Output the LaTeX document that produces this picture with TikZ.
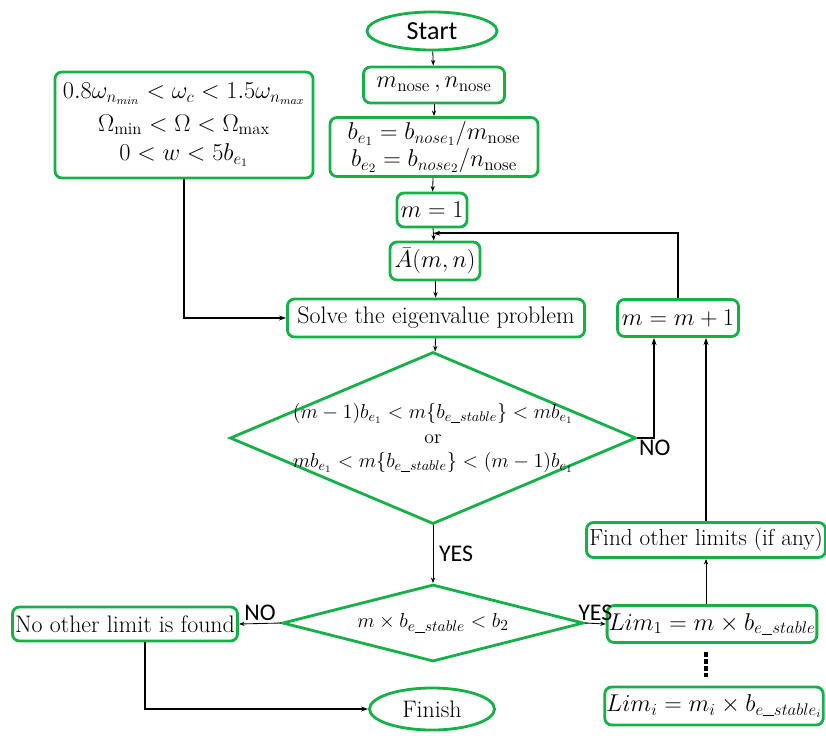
\documentclass[tikz,border=0pt]{standalone}
\usepackage{fontspec}
\newfontfamily\calib{Carlito}
\usepackage{tikz}
\usetikzlibrary{
  arrows.meta,shapes.geometric,positioning,calc
}
\definecolor{flowgreen}{RGB}{22,176,72}
\newcommand{\us}{\mbox{\rule[-0.6pt]{0.45em}{0.35pt}}}

\tikzset{
  box/.style={draw=flowgreen,line width=2pt,rounded corners=5pt,fill=white,inner sep=1pt,font=\fontsize{17}{20}\selectfont},
  term/.style={ellipse,draw=flowgreen,line width=2pt,fill=white,inner sep=1pt,font=\fontsize{17}{20}\selectfont},
  decision/.style={diamond,draw=flowgreen,line width=2pt,inner sep=0pt},
  bigmath/.style={font=\fontsize{17.5}{21}\selectfont},
  thinarrow/.style={line width=.6pt,-{Stealth[length=4pt,width=3pt]}},
  thickarrow/.style={line width=1.3pt,-{Stealth[length=5pt,width=3.5pt]}},
  answer/.style={font=\calib\fontsize{17}{20}\selectfont,inner sep=1pt}
}

\begin{document}
\begin{tikzpicture}[x=0.025cm,y=-0.025cm]
  \useasboundingbox (0,0) rectangle (826,735);

  \node[term,minimum width=3.25cm,minimum height=.95cm,font=\calib\fontsize{18.5}{22}\selectfont] (start) at (432,31) {Start};
  \node[box,bigmath,minimum width=3.525cm,minimum height=.9cm] (mn) at (434,85) {$m_{\mathrm{nose}}\,,n_{\mathrm{nose}}$};
  \node[box,bigmath,minimum width=5.2cm,minimum height=1.475cm,align=center] (be) at (434,147)
    {$b_{e_1}=b_{nose_1}/m_{\mathrm{nose}}$\\[-2pt] $b_{e_2}=b_{nose_2}/n_{\mathrm{nose}}$};
  \node[box,bigmath,minimum width=1.75cm,minimum height=.85cm] (m1) at (432,210) {$m=1$};
  \node[box,bigmath,minimum width=2.25cm,minimum height=.95cm] (abar) at (435,261) {$\bar{A}(m,n)$};
  \node[box,minimum width=7.425cm,minimum height=.95cm] (solve) at (436,318) {Solve the eigenvalue problem};
  \node[box,bigmath,minimum width=3.025cm,minimum height=.925cm] (mm1) at (678,318) {$m=m+1$};
  \node[box,minimum width=6.45cm,minimum height=2.65cm,align=center] (cons) at (184,125)
    {$0.8\omega_{n_{min}}<\omega_c<1.5\omega_{n_{max}}$\\[3pt] $\Omega_{\min}<\Omega<\Omega_{\max}$\\[1pt] $0<w<5b_{e_1}$};

  \node[decision,minimum width=10.15cm,minimum height=4.3cm] (d1) at (433,438) {};
  \node[align=center,inner sep=0pt,font=\fontsize{14}{17.5}\selectfont] (d1txt) at (d1)
    {$(m-1)b_{e_1}<m\bigl\{b_{e\us stable}\bigr\}<mb_{e_1}$\\ or\\ $mb_{e_1}<m\bigl\{b_{e\us stable}\bigr\}<(m-1)b_{e_1}$};
  \node[decision,minimum width=7.525cm,minimum height=1.925cm] (d2) at (433,623) {};
  \node[inner sep=0pt,font=\fontsize{15.5}{18}\selectfont] (d2txt) at (d2) {$m\times b_{e\us stable}<b_2$};

  \node[box,minimum width=5.625cm,minimum height=.85cm] (noother) at (125,624) {No other limit is found};
  \node[term,minimum width=3.125cm,minimum height=1.05cm] (finish) at (432,709) {Finish};
  \node[box,font=\fontsize{16.5}{20}\selectfont,minimum width=4.975cm,minimum height=.925cm] (lim1) at (712,624) {$Lim_1=m\times b_{e\us stable}$};
  \node[box,font=\fontsize{16.5}{20}\selectfont,minimum width=5.975cm,minimum height=.875cm] (find) at (706,540) {Find other limits (if any)};
  \node[box,minimum width=5.375cm,minimum height=.95cm] (limi) at (714,706) {$Lim_i=m_i\times b_{e\us stable_i}$};

  \coordinate (join) at ($(m1.south)!.4!(abar.north)$);
  \coordinate (noin) at ($(mm1.south)+(-24,0)$);

  \draw[thinarrow] (start) -- (mn);
  \draw[thinarrow] (mn) -- (be);
  \draw[thinarrow] (be) -- (m1);
  \draw[thinarrow] (m1) -- (abar);
  \draw[thinarrow] (abar) -- (solve);
  \draw[thinarrow] (solve) -- (d1);
  \draw[thickarrow] (mm1.north) |- (join);
  \draw[thickarrow] (cons.south) |- (solve.west);
  \draw[thickarrow] (d1.east) -| (noin);
  \node[answer,below right] (no1) at (d1.east) {NO};
  \draw[thinarrow] (d1.south) -- (d2.north) node[answer,midway,right=3pt] (yes1) {YES};
  \draw[thinarrow] (d2.west) -- (noother.east) node[answer,midway,above=1pt] (no2) {NO};
  \draw[thinarrow] (d2.east) -- (lim1.west) node[answer,midway,above=1pt] (yes2) {YES};
  \draw[thinarrow] (find.south |- lim1.north) -- (find.south);
  \draw[thickarrow] (find.north) -- (find.north |- mm1.south);
  \draw[line width=2.2pt,dash pattern=on 3pt off 2pt] ([yshift=-6pt]find.south |- lim1.south) -- ([yshift=6pt]find.south |- limi.north);
  \draw[thickarrow] ($(noother.south)+(20,0)$) |- (finish.west);
\end{tikzpicture}
\end{document}
